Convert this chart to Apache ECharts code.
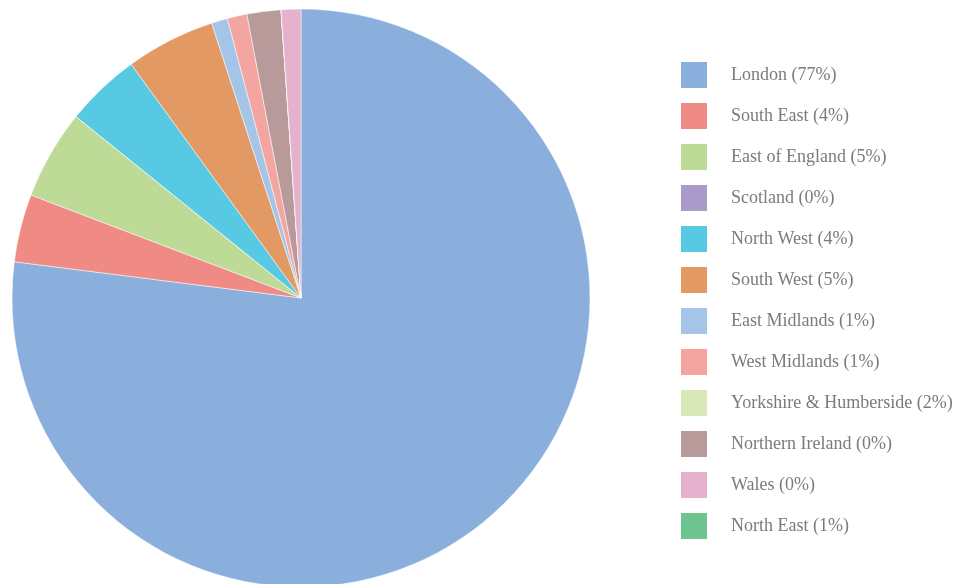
<!DOCTYPE html>
<html>
<head>
<meta charset="utf-8">
<script src="https://cdn.jsdelivr.net/npm/echarts@6/dist/echarts.min.js"></script>
<style>
  html, body { margin: 0; padding: 0; background: #fff; }
  #chart { width: 963px; height: 584px; }
</style>
</head>
<body>
<div id="chart"></div>
<script>
// Share of total by region, in percent
const regions = [
  'London', 'South East', 'East of England', 'Scotland', 'North West', 'South West',
  'East Midlands', 'West Midlands', 'Yorkshire & Humberside', 'Northern Ireland', 'Wales', 'North East'
];
const shares = [77, 3.8, 5.0, 0, 4.2, 5.0, 0.9, 1.1, 1.9, 0, 0, 1.1];

// Legend swatch colours
const legendColors = [
  '#8aafdc', '#f08a84', '#bddb97', '#a89bca', '#57c9e2', '#e39964',
  '#a5c5e8', '#f3a6a0', '#d8e8b9', '#b89a9a', '#e5b1cc', '#6ec48e'
];
// Slice fill colours
const sliceColors = [
  '#8aafdc', '#f08a84', '#bddb97', '#a89bca', '#57c9e2', '#e39964',
  '#a5c5e8', '#f3a6a0', '#b89a9a', '#b89a9a', '#e5b1cc', '#e5b1cc'
];

const total = shares.reduce((a, b) => a + b, 0);
const pctOf = {};
regions.forEach((r, i) => { pctOf[r] = Math.round(shares[i] / total * 100); });

const chart = echarts.init(document.getElementById('chart'));
chart.setOption({
  animation: false,
  legend: {
    orient: 'vertical',
    left: 676,
    top: 57,
    itemWidth: 26,
    itemHeight: 26,
    itemGap: 15,
    icon: 'rect',
    selectedMode: false,
    itemStyle: { borderWidth: 0 },
    data: regions.map((r, i) => ({ name: r, itemStyle: { color: legendColors[i], borderWidth: 0 } })),
    formatter: name => `${name} (${pctOf[name]}%)`,
    textStyle: {
      fontFamily: '"Liberation Serif", "DejaVu Serif", serif',
      fontSize: 18,
      color: '#7b7b7b',
      padding: [0, 0, 0, 19]
    }
  },
  series: [{
    type: 'pie',
    center: [301, 298],
    radius: [0, 289],
    startAngle: 90,
    clockwise: true,
    label: { show: false },
    labelLine: { show: false },
    emphasis: { disabled: true },
    itemStyle: { borderColor: '#ffffff', borderWidth: 0.5 },
    data: regions.map((r, i) => ({
      name: r,
      value: shares[i],
      itemStyle: { color: sliceColors[i] }
    }))
  }]
});
</script>
</body>
</html>
